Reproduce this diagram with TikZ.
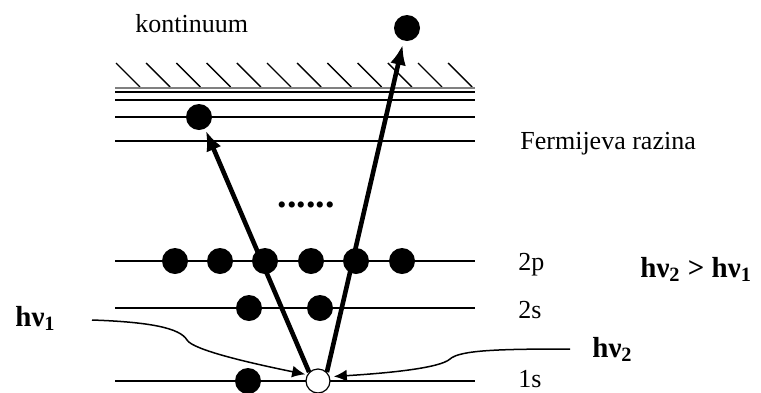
\documentclass[tikz,border=0pt]{standalone}
\usepackage{fontspec}
\setmainfont{Liberation Serif}
\usepackage{tikz}
\usetikzlibrary{arrows.meta}
\tikzset{
  lvl/.style  ={line width=0.8pt},
  hatch/.style={line width=0.7pt},
  el/.style   ={circle, fill=black, minimum size=13pt, inner sep=0pt},
  vac/.style  ={circle, draw, fill=white, line width=0.6pt, minimum size=12pt, inner sep=0pt},
  ar/.style   ={-{Latex[length=10pt,width=8pt]}, line width=2.3pt},
  par/.style  ={-{Latex[length=6.5pt,width=6pt]}, line width=0.75pt},
  lab/.style  ={font=\fontsize{13}{15}\selectfont, anchor=base west, inner sep=0pt},
  hlab/.style ={font=\fontsize{14.5}{17}\selectfont\bfseries, anchor=base west, inner sep=0pt},
}

\begin{document}
\begin{tikzpicture}[x=0.5pt,y=-0.5pt]
\useasboundingbox (0,0) rectangle (761,392);
\def\xa{115} \def\xb{475}
\def\yK{88} \def\yF{141} \def\yP{261} \def\yS{308} \def\yO{381}

% continuum edge
\foreach \i in {0,...,11}
  \draw[hatch] ({116+30.2*\i},63) -- ++(24,24);
\draw[line width=0.6pt,draw=gray] (\xa,\yK) -- (\xb,\yK);
\draw[lvl] (\xa,92) -- (\xb,92);
\draw[lvl] (\xa,100) -- (\xb,100);
\draw[lvl] (\xa,117) -- (\xb,117);
\draw[lvl] (\xa,\yF) -- (\xb,\yF);

% core levels
\draw[lvl] (\xa,\yP) -- (\xb,\yP);
\draw[lvl] (\xa,\yS) -- (\xb,\yS);
\draw[lvl] (\xa,\yO) -- (\xb,\yO);

% electrons
\node[el] (dtop) at (407,28) {};
\node[el] (dF) at (199,117) {};
\foreach \x [count=\n] in {175,220,265,311,356,402}
  \node[el] (p\n) at (\x,\yP) {};
\node[el] (s1) at (249,\yS) {};
\node[el] (s2) at (320,\yS) {};
\node[el] (k1) at (248,\yO) {};
\node[vac] (h1s) at (318,\yO) {};
\node[font=\fontsize{19}{21}\selectfont\bfseries,inner sep=0pt] (dots) at (306,205) {......};

% labels
\node[lab] (kont) at (135,32) {kontinuum};
\node[lab] (ferm) at (520,149) {Fermijeva razina};
\node[lab] (l2p) at (518,270) {2p};
\node[lab] (l2s) at (518,318) {2s};
\node[lab] (l1s) at (518,387) {1s};
\node[hlab] (cmp) at (640,277) {hν\textsubscript{2} > hν\textsubscript{1}};
\node[hlab] (hv1) at (15,326) {hν\textsubscript{1}};
\node[hlab] (hv2) at (592,357) {hν\textsubscript{2}};

% excitations
\draw[ar,shorten >=1pt] (h1s.north west) -- (dF.297);
\draw[ar,shorten >=2pt] (h1s.north east) -- (dtop.255);

% photons
\coordinate (c1) at (92,320);
\coordinate (c2) at (570,349);
\draw[par,shorten >=1pt] (c1) .. controls (150,322) and (180,328) .. (187,340)
   .. controls (193,350) and (250,363) .. (h1s.150);
\draw[par,shorten >=2pt] (c2) .. controls (500,349) and (460,350) .. (450,359)
   .. controls (440,368) and (390,373) .. (h1s.20);
\end{tikzpicture}
\end{document}
